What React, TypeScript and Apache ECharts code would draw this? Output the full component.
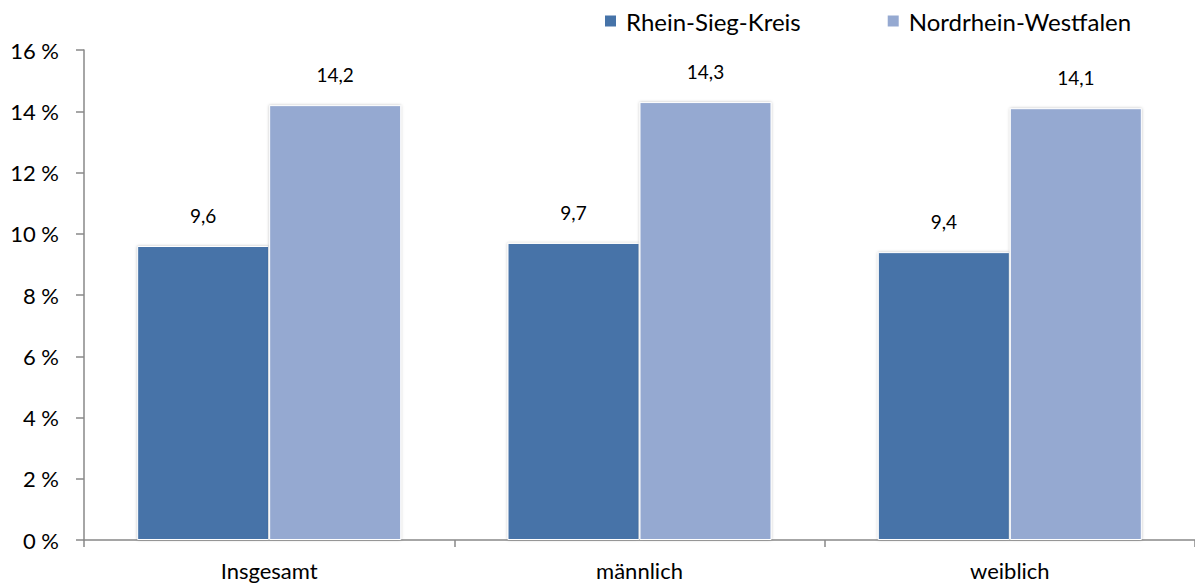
import React, { useEffect, useRef } from "react";
import * as echarts from "echarts";

const categories = ["Insgesamt", "männlich", "weiblich"];
const seriesNames = ["Rhein-Sieg-Kreis", "Nordrhein-Westfalen"];
const rheinSieg = [9.6, 9.7, 9.4];
const nrw = [14.2, 14.3, 14.1];
const colors = ["#4673A8", "#95A9D1"];

const FONT = "Lato, 'Noto Sans', sans-serif";

export default function App() {
  const ref = useRef<HTMLDivElement>(null);
  useEffect(() => {
    if (!ref.current) return;
    const chart = echarts.init(ref.current, undefined, { renderer: "svg" });
    const mkSeries = (name: string, data: number[], color: string) => ({
      name,
      type: "bar",
      data,
      barWidth: 132,
      barGap: "0%",
      itemStyle: {
        color,
        borderColor: "#ffffff",
        borderWidth: 1,
        shadowBlur: 3,
        shadowColor: "rgba(0,0,0,0.25)",
      },
      label: {
        show: true,
        position: "top",
        distance: 21,
        color: "#000",
        fontFamily: FONT,
        fontSize: 19,
        formatter: (p: any) => String(p.value.toFixed(1)).replace(".", ","),
      },
    });
    chart.setOption({
      animation: false,
      textStyle: { fontFamily: FONT },
      legend: {
        top: 4,
        left: 598,
        itemWidth: 13,
        itemHeight: 13,
        itemGap: 85,
        icon: "rect",
        textStyle: { fontFamily: FONT, fontSize: 24, color: "#000", padding: [0, 0, 0, 4] },
        data: seriesNames,
      },
      grid: { left: 84, top: 50, width: 1113, height: 490, containLabel: false },
      xAxis: {
        type: "category",
        data: categories,
        axisLine: { lineStyle: { color: "#888", width: 1.5 } },
        axisTick: { show: true, length: 7, lineStyle: { color: "#888", width: 1.5 } },
        axisLabel: { color: "#000", fontFamily: FONT, fontSize: 22, margin: 18, lineHeight: 24 },
      },
      yAxis: {
        type: "value",
        min: 0,
        max: 16,
        interval: 2,
        axisLine: { show: true, lineStyle: { color: "#888", width: 1.5 } },
        axisTick: { show: true, length: 8, lineStyle: { color: "#888", width: 1.5 } },
        splitLine: { show: false },
        axisLabel: {
          color: "#000",
          fontFamily: FONT,
          fontSize: 22,
          margin: 25,
          formatter: (v: number) => `${v} %`,
        },
      },
      series: [
        mkSeries(seriesNames[0], rheinSieg, colors[0]),
        mkSeries(seriesNames[1], nrw, colors[1]),
      ],
    });
    return () => chart.dispose();
  }, []);
  return (
    <div
      ref={ref}
      style={{ position: "fixed", left: 0, top: 0, width: 1195, height: 586, background: "#fff" }}
    />
  );
}
